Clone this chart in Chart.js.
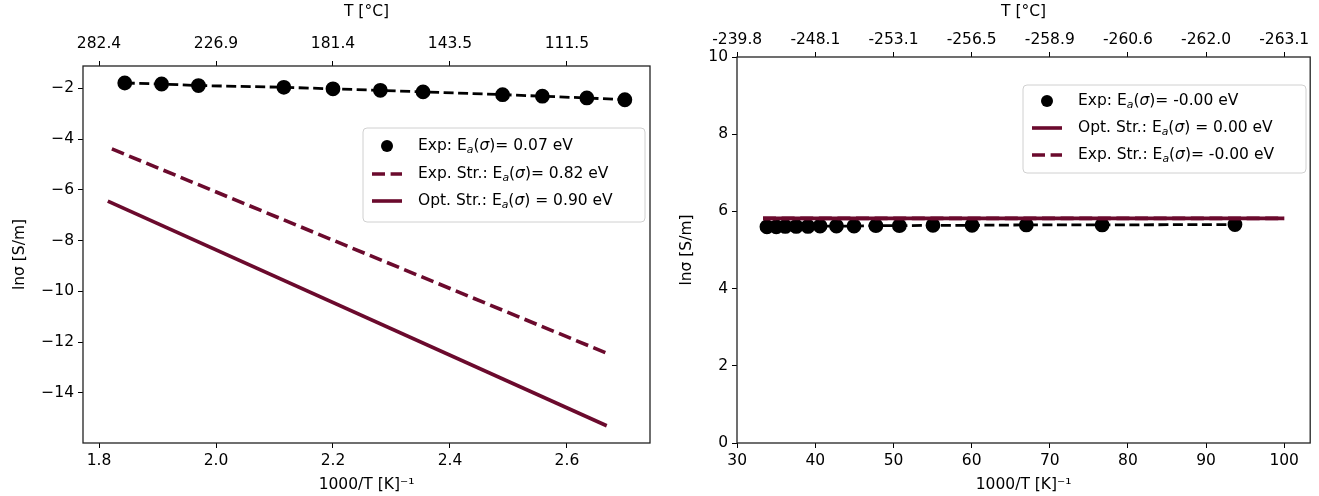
<!DOCTYPE html>
<html><head><meta charset="utf-8">
<script src="https://cdn.jsdelivr.net/npm/chart.js@4.4.0/dist/chart.umd.min.js"></script>
<style>
html,body{margin:0;padding:0;background:#fff;}
#wrap{position:relative;width:1319px;height:496px;overflow:hidden;}
canvas{position:absolute;top:0;}
</style></head><body>
<div id="wrap">
<canvas id="c1" width="660" height="496" style="left:0"></canvas>
<canvas id="c2" width="659" height="496" style="left:660px"></canvas>
</div>
<script>
// ---------------- data: left panel ----------------
const leftExpX = [1.844, 1.907, 1.970, 2.116, 2.200, 2.281, 2.354, 2.490, 2.558, 2.634, 2.699];
const leftExpY = [-1.79, -1.83, -1.89, -1.96, -2.02, -2.08, -2.14, -2.25, -2.31, -2.38, -2.45];
const leftExpStrX = [1.822, 2.667];
const leftExpStrY = [-4.39, -12.43];
const leftOptStrX = [1.815, 2.668];
const leftOptStrY = [-6.45, -15.30];
const leftXTicks = [1.8, 2.0, 2.2, 2.4, 2.6];
const leftXTickLabels = ['1.8', '2.0', '2.2', '2.4', '2.6'];
const leftTopTickLabels = ['282.4', '226.9', '181.4', '143.5', '111.5'];
const leftYTicks = [-14, -12, -10, -8, -6, -4, -2];
const leftYTickLabels = ['\u221214', '\u221212', '\u221210', '\u22128', '\u22126', '\u22124', '\u22122'];
const leftLegendLabels = ['Exp: E_a(\u03c3)= 0.07 eV', 'Exp. Str.: E_a(\u03c3)= 0.82 eV', 'Opt. Str.: E_a(\u03c3) = 0.90 eV'];

// ---------------- data: right panel ----------------
const rightExpX = [33.8, 35.0, 36.15, 37.55, 39.05, 40.6, 42.7, 44.95, 47.75, 50.75, 55.05, 60.05, 67.0, 76.7, 93.7];
const rightExpY = [5.60, 5.60, 5.61, 5.61, 5.61, 5.62, 5.62, 5.62, 5.63, 5.63, 5.64, 5.64, 5.65, 5.65, 5.66];
const rightOptStrX = [33.3, 100.0];
const rightOptStrY = [5.82, 5.82];
const rightExpStrX = [33.3, 100.0];
const rightExpStrY = [5.82, 5.82];
const rightXTicks = [30, 40, 50, 60, 70, 80, 90, 100];
const rightXTickLabels = ['30', '40', '50', '60', '70', '80', '90', '100'];
const rightTopTickLabels = ['-239.8', '-248.1', '-253.1', '-256.5', '-258.9', '-260.6', '-262.0', '-263.1'];
const rightYTicks = [0, 2, 4, 6, 8, 10];
const rightYTickLabels = ['0', '2', '4', '6', '8', '10'];
const rightLegendLabels = ['Exp: E_a(\u03c3)= -0.00 eV', 'Opt. Str.: E_a(\u03c3) = 0.00 eV', 'Exp. Str.: E_a(\u03c3)= -0.00 eV'];

// ---------------- common styling ----------------
const MAROON = '#6b0a2d';
const FONT = '"DejaVu Sans", sans-serif';
const TICKFONT = {family: FONT, size: 15.5};
const TITLEFONT = {family: FONT, size: 15.5};
Chart.defaults.color = '#000';
Chart.defaults.font.family = FONT;

const pts = (xs, ys) => xs.map((x, i) => ({x: x, y: ys[i]}));

function richSegments(label) {
  const segs = []; let buf = ''; let i = 0;
  while (i < label.length) {
    if (label.startsWith('_a', i)) { if (buf) segs.push({t: buf}); buf = ''; segs.push({t: 'a', it: true, sub: true}); i += 2; }
    else if (label[i] === '\u03c3') { if (buf) segs.push({t: buf}); buf = ''; segs.push({t: '\u03c3', it: true}); i++; }
    else { buf += label[i]; i++; }
  }
  if (buf) segs.push({t: buf});
  return segs;
}
function drawRich(ctx, label, x, y, fs) {
  let cx = x;
  ctx.textBaseline = 'middle';
  ctx.textAlign = 'left';
  for (const s of richSegments(label)) {
    const size = s.sub ? fs * 0.7 : fs;
    ctx.font = (s.it ? 'italic ' : '') + size + 'px ' + FONT;
    ctx.fillText(s.t, cx, y + (s.sub ? fs * 0.25 : 0));
    cx += ctx.measureText(s.t).width;
  }
}

const framePlugin = {
  id: 'frame',
  afterDatasetsDraw(chart) {
    const {ctx, chartArea: a} = chart;
    ctx.save();
    ctx.strokeStyle = '#222';
    ctx.lineWidth = 1.3;
    ctx.strokeRect(a.left, a.top, a.right - a.left, a.bottom - a.top);
    ctx.restore();
  }
};

const legendPlugin = {
  id: 'mplLegend',
  afterDraw(chart, args, o) {
    if (!o || !o.rows) return;
    const ctx = chart.ctx;
    ctx.save();
    const r = 4;
    const {x, y, w, h} = o.box;
    ctx.beginPath();
    ctx.moveTo(x + r, y); ctx.lineTo(x + w - r, y); ctx.quadraticCurveTo(x + w, y, x + w, y + r);
    ctx.lineTo(x + w, y + h - r); ctx.quadraticCurveTo(x + w, y + h, x + w - r, y + h);
    ctx.lineTo(x + r, y + h); ctx.quadraticCurveTo(x, y + h, x, y + h - r);
    ctx.lineTo(x, y + r); ctx.quadraticCurveTo(x, y, x + r, y); ctx.closePath();
    ctx.fillStyle = 'rgba(255,255,255,0.8)'; ctx.fill();
    ctx.strokeStyle = '#d0d0d0'; ctx.lineWidth = 1; ctx.stroke();
    o.rows.forEach((row, i) => {
      const cy = y + o.rowY[i];
      const hx0 = x + o.handle[0], hx1 = x + o.handle[1];
      if (row.kind === 'marker') {
        ctx.fillStyle = row.color;
        ctx.beginPath(); ctx.arc((hx0 + hx1) / 2, cy, 6, 0, Math.PI * 2); ctx.fill();
      } else {
        ctx.strokeStyle = row.color; ctx.lineWidth = row.width;
        ctx.setLineDash(row.dash || []);
        ctx.beginPath(); ctx.moveTo(hx0, cy); ctx.lineTo(hx1, cy); ctx.stroke();
        ctx.setLineDash([]);
      }
      ctx.fillStyle = '#000';
      drawRich(ctx, row.label, x + o.textX, cy, o.fontSize);
    });
    ctx.restore();
  }
};

function fixTicks(values) {
  return function (axis) { axis.ticks = values.map(v => ({value: v})); };
}
function fixSize(prop, size) {
  return function (axis) { axis[prop] = size; };
}
function tickAxis(opts) {
  return Object.assign({
    type: 'linear',
    border: {display: false},
    grid: {drawOnChartArea: false, drawTicks: true, tickLength: 5, color: '#000', lineWidth: 1},
  }, opts);
}

function makeChart(id, cfg) {
  return new Chart(document.getElementById(id), {
    type: 'scatter',
    data: {datasets: cfg.datasets},
    options: {
      responsive: false,
      animation: false,
      devicePixelRatio: 1,
      layout: {padding: {left: 0, right: cfg.padRight, top: 0, bottom: 0}},
      plugins: {legend: {display: false}, tooltip: {enabled: false}, mplLegend: cfg.legend},
      scales: {
        x: tickAxis({
          position: 'bottom', min: cfg.xmin, max: cfg.xmax,
          afterBuildTicks: fixTicks(cfg.xTicks),
          afterFit: fixSize('height', 496 - cfg.bottom),
          ticks: {autoSkip: false, maxRotation: 0, padding: 4, font: TICKFONT, callback: (v, i) => cfg.xTickLabels[i]},
          title: {display: true, text: '1000/T [K]\u207b\u00b9', font: TITLEFONT, padding: {top: 0, bottom: 2}}
        }),
        x2: tickAxis({
          position: 'top', min: cfg.xmin, max: cfg.xmax,
          afterBuildTicks: fixTicks(cfg.xTicks),
          afterFit: fixSize('height', cfg.top),
          ticks: {autoSkip: false, maxRotation: 0, padding: cfg.topPad, font: TICKFONT, callback: (v, i) => cfg.topTickLabels[i]},
          title: {display: true, text: 'T [\u00b0C]', font: TITLEFONT, padding: {top: 3, bottom: 0}}
        }),
        y: tickAxis({
          position: 'left', min: cfg.ymin, max: cfg.ymax,
          afterBuildTicks: fixTicks(cfg.yTicks),
          afterFit: fixSize('width', cfg.left),
          ticks: {autoSkip: false, padding: 4, font: TICKFONT, callback: (v, i) => cfg.yTickLabels[i]},
          title: {display: true, text: 'ln\u03c3 [S/m]', font: TITLEFONT, padding: {top: cfg.yTitlePad, bottom: 0}}
        })
      }
    },
    plugins: [framePlugin, legendPlugin]
  });
}

const expStyle = {borderColor: '#000', backgroundColor: '#000', pointBackgroundColor: '#000', pointBorderColor: '#000',
  pointRadius: 6, pointHoverRadius: 6, borderWidth: 2.8, borderDash: [10, 4.5], showLine: true};
const lineStyle = (dash) => ({borderColor: MAROON, backgroundColor: MAROON, pointRadius: 0, pointHoverRadius: 0,
  borderWidth: 3.6, borderDash: dash, showLine: true});

makeChart('c1', {
  datasets: [
    Object.assign({label: 'Exp', data: pts(leftExpX, leftExpY), order: 3}, expStyle),
    Object.assign({label: 'Exp. Str.', data: pts(leftExpStrX, leftExpStrY), order: 2}, lineStyle([13, 5.6])),
    Object.assign({label: 'Opt. Str.', data: pts(leftOptStrX, leftOptStrY), order: 1}, lineStyle([]))
  ],
  xmin: 1.7726, xmax: 2.742, ymin: -15.98, ymax: -1.12,
  xTicks: leftXTicks, xTickLabels: leftXTickLabels, topTickLabels: leftTopTickLabels,
  yTicks: leftYTicks, yTickLabels: leftYTickLabels,
  left: 83, top: 66, bottom: 443, padRight: 10, topPad: 8, yTitlePad: 11,
  legend: {
    box: {x: 363, y: 128, w: 282, h: 94}, rowY: [18, 46, 73], handle: [9, 39], textX: 55, fontSize: 15.5,
    rows: [
      {label: leftLegendLabels[0], kind: 'marker', color: '#000'},
      {label: leftLegendLabels[1], kind: 'line', color: MAROON, width: 3.6, dash: [13, 5.6]},
      {label: leftLegendLabels[2], kind: 'line', color: MAROON, width: 3.6}
    ]
  }
});

makeChart('c2', {
  datasets: [
    Object.assign({label: 'Exp', data: pts(rightExpX, rightExpY), order: 3}, expStyle),
    Object.assign({label: 'Opt. Str.', data: pts(rightOptStrX, rightOptStrY), order: 2}, lineStyle([])),
    Object.assign({label: 'Exp. Str.', data: pts(rightExpStrX, rightExpStrY), order: 1}, lineStyle([13, 5.6]))
  ],
  xmin: 29.97, xmax: 103.33, ymin: 0, ymax: 10,
  xTicks: rightXTicks, xTickLabels: rightXTickLabels, topTickLabels: rightTopTickLabels,
  yTicks: rightYTicks, yTickLabels: rightYTickLabels,
  left: 77, top: 57, bottom: 443, padRight: 4, topPad: 3, yTitlePad: 18,
  legend: {
    box: {x: 363, y: 85, w: 283, h: 88}, rowY: [16, 43, 70], handle: [9, 39], textX: 55, fontSize: 15.5,
    rows: [
      {label: rightLegendLabels[0], kind: 'marker', color: '#000'},
      {label: rightLegendLabels[1], kind: 'line', color: MAROON, width: 3.6},
      {label: rightLegendLabels[2], kind: 'line', color: MAROON, width: 3.6, dash: [13, 5.6]}
    ]
  }
});
</script>
</body></html>
